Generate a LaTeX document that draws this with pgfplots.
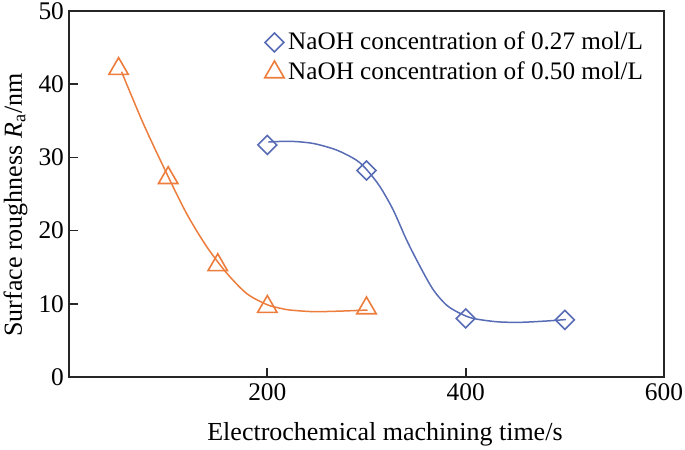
\documentclass[border=0pt]{standalone}
\usepackage{pgfplots}
\pgfplotsset{compat=1.18}
\usepackage{fontspec}
\setmainfont{Liberation Serif}
\definecolor{cblue}{RGB}{88,108,182}
\definecolor{corange}{RGB}{237,125,60}
\begin{document}
\begin{tikzpicture}[font=\fontsize{12.7}{15}\selectfont]
\begin{axis}[
  name=ax,
  scale only axis,
  width=297.5pt, height=183pt,
  xmin=0, xmax=600, ymin=0, ymax=50,
  xtick={200,400,600}, ytick={0,10,20,30,40,50},
  xtick pos=bottom, ytick pos=left,
  tick align=inside,
  major tick length=4.5pt,
  axis line style={line width=0.85pt, black!85},
  every tick/.style={line width=0.85pt, black!85},
  /pgf/number format/assume math mode=true,
  yticklabel style={xshift=1pt},
  xlabel={\fontsize{13}{15}\selectfont Electrochemical machining time/s},
  ylabel={\fontsize{13}{15}\selectfont Surface roughness \textit{R}\textsubscript{a}/nm},
  every axis x label/.style={at={(axis description cs:0.531,0)}, anchor=base, yshift=-31.5pt},
  every axis y label/.style={at={(axis description cs:-0.090,0.47)}, rotate=90, anchor=center},
  legend style={at={(axis description cs:0.325,0.96)}, anchor=north west, draw=none, fill=none, row sep=0.5pt, inner sep=1pt, font=\fontsize{12.6}{15}\selectfont},
  legend cell align=left,
  clip=false,
]
% fitted curves
\addplot[cblue, line width=0.75pt, smooth, tension=0.5, forget plot] coordinates {
 (201,32.1) (222.9,32.2) (246.4,31.9) (269.9,31.0) (290.1,29.6) (301,28.2)
 (313.6,26.0) (327,22.8) (340.5,18.7) (354,15.1) (367.4,11.9) (380.9,9.8)
 (394.3,8.7) (407.7,8.0) (431.3,7.55) (454.6,7.47) (481.5,7.65) (501,7.85)
};
\addplot[corange, line width=0.75pt, smooth, tension=0.5, forget plot] coordinates {
 (53,41.7) (75,34.6) (98.5,27.8) (118.7,22.3) (138.9,17.8) (159,14.2)
 (179.2,11.4) (199.4,9.9) (212.8,9.4) (223,9.15) (246.4,8.93) (273,9.0) (301,9.15)
};
% data points
\addplot[only marks, cblue, mark=square, mark size=3.35pt, mark options={rotate=45, line width=0.8pt, fill=none}] coordinates {
 (200,31.7) (300,28.2) (400,8.0) (500,7.8)
};
\addlegendentry{NaOH concentration of 0.27 mol/L}
\addplot[only marks, corange, mark=triangle, mark size=5.6pt, mark options={line width=0.8pt, fill=none}] coordinates {
 (50,42.1) (100,27.2) (150,15.3) (200,9.6) (300,9.4)
};
\addlegendentry{NaOH concentration of 0.50 mol/L}
\end{axis}
\pgfresetboundingbox
\useasboundingbox ([shift={(-34.5pt,-36pt)}]ax.south west) rectangle ([shift={(10.5pt,5.5pt)}]ax.north east);
\end{tikzpicture}
\end{document}
